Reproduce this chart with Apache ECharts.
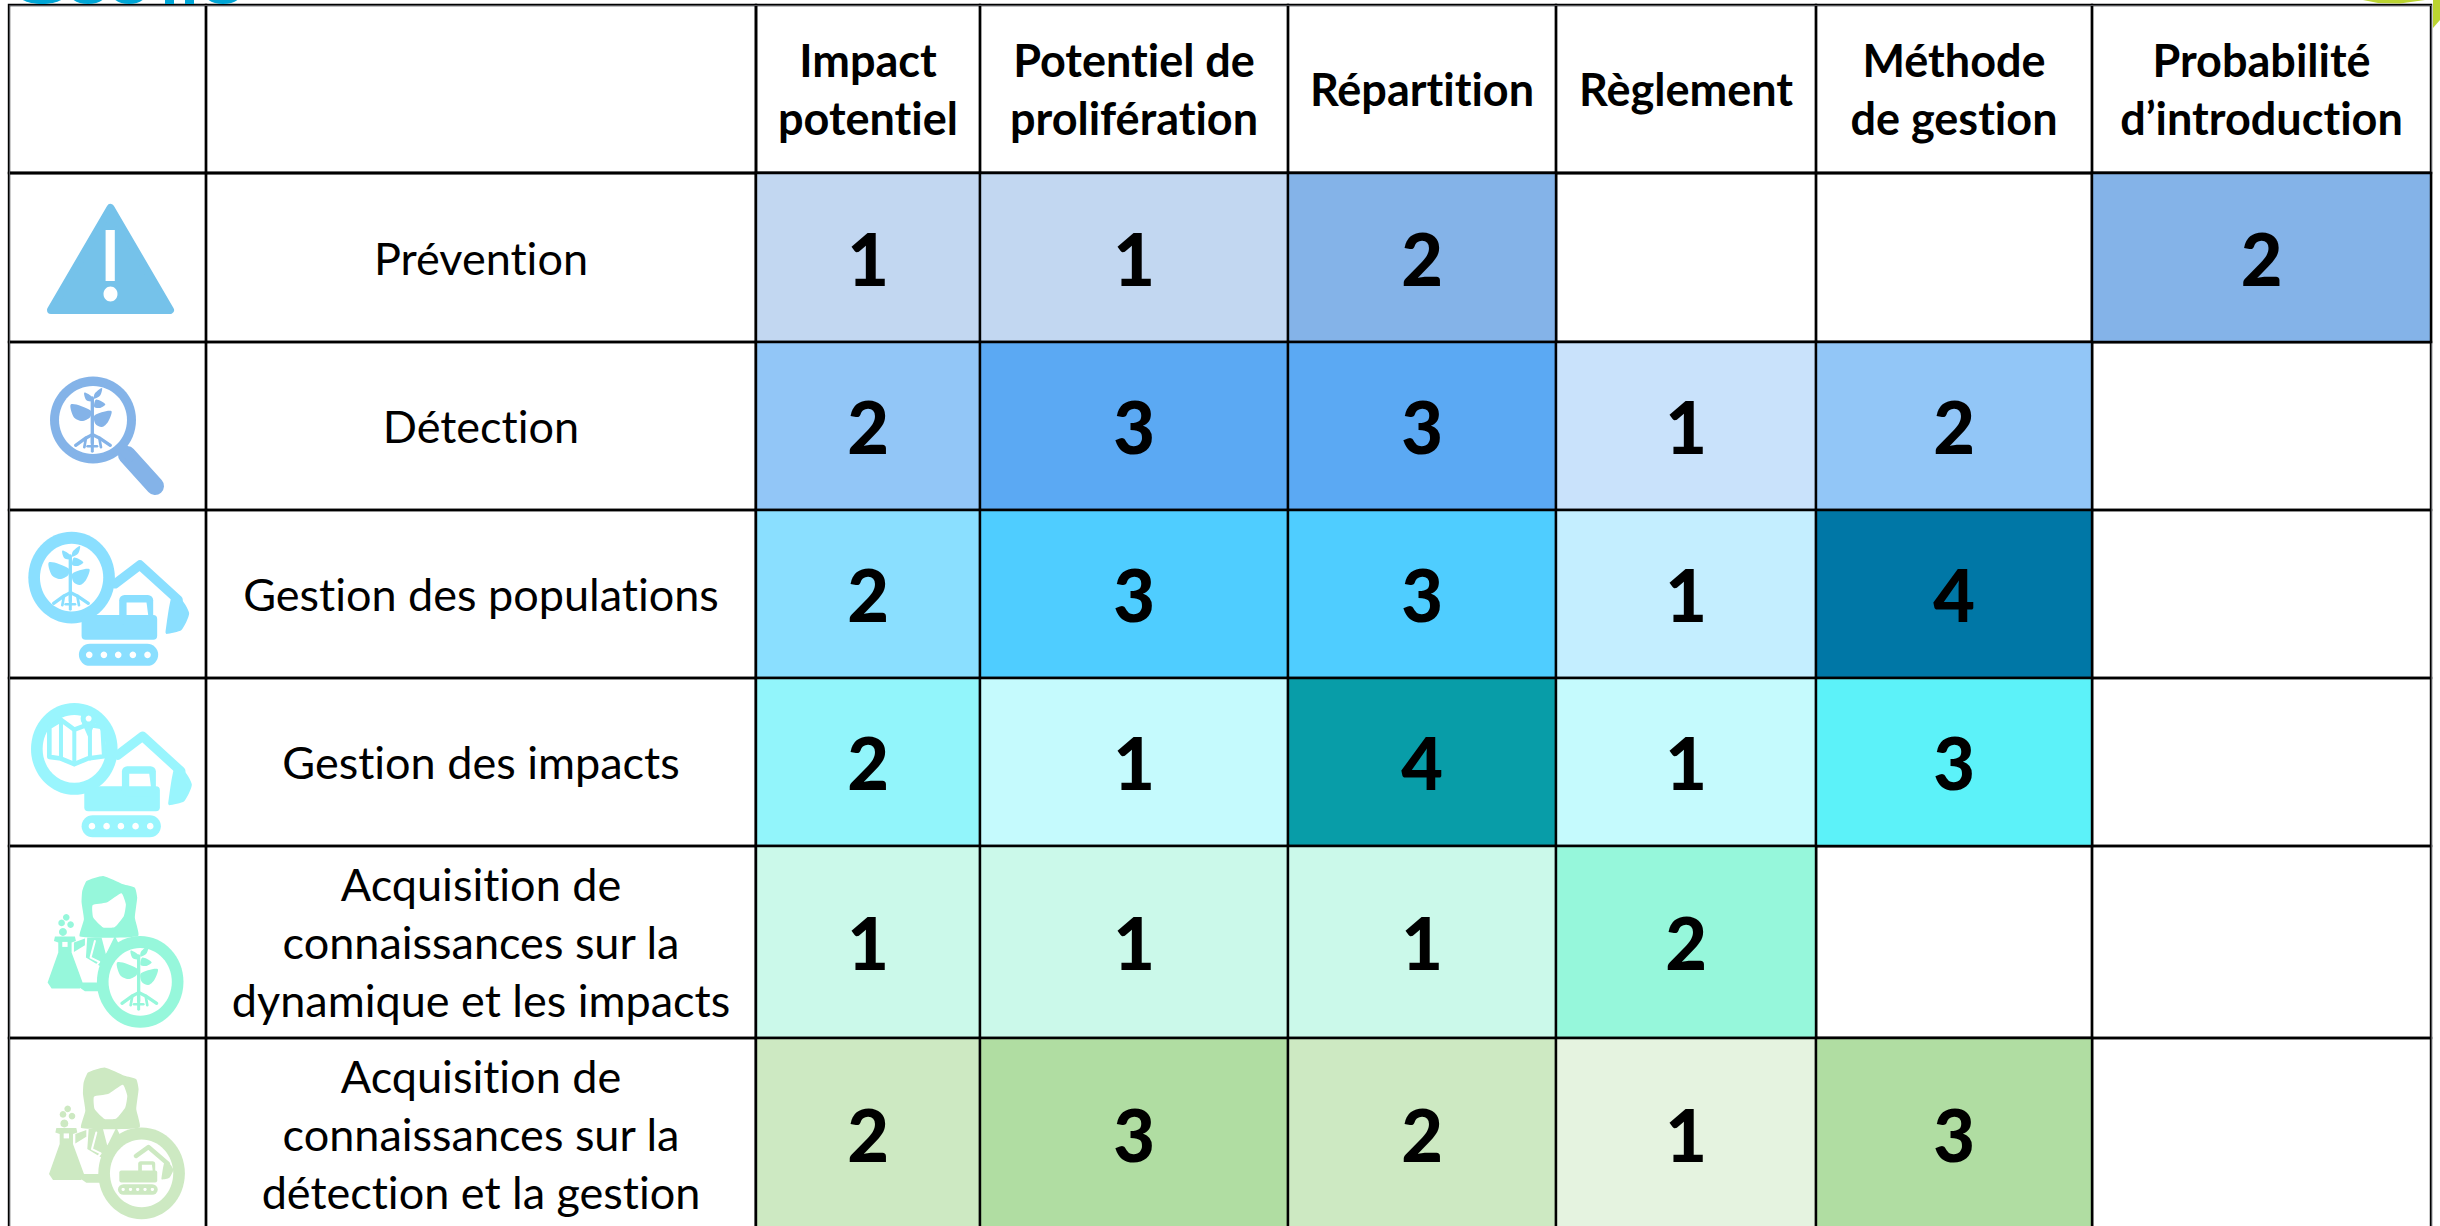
<!DOCTYPE html>
<html>
<head>
<meta charset="utf-8">
<title>Matrice</title>
<style>
html,body{margin:0;padding:0;background:#fff;overflow:hidden}
#main{width:2440px;height:1226px}
#main text{font-variant-ligatures:none}
</style>
<script src="https://cdn.jsdelivr.net/npm/echarts@6/dist/echarts.min.js"></script>
</head>
<body>
<div id="main"></div>
<script>
var columns = ['Impact\npotentiel', 'Potentiel de\nprolifération', 'Répartition', 'Règlement', 'Méthode\nde gestion', 'Probabilité\nd’introduction'];
var rows = ['Prévention', 'Détection', 'Gestion des populations', 'Gestion des impacts',
    'Acquisition de\nconnaissances sur la\ndynamique et les impacts',
    'Acquisition de\nconnaissances sur la\ndétection et la gestion'];

var prevention = [1, 1, 2, null, null, 2];
var detection = [2, 3, 3, 1, 2, null];
var populations = [2, 3, 3, 1, 4, null];
var impacts = [2, 1, 4, 1, 3, null];
var dynamique = [1, 1, 1, 2, null, null];
var gestion = [2, 3, 2, 1, 3, null];
var allValues = [prevention, detection, populations, impacts, dynamique, gestion];

// couleurs par ligne, niveau 1 a 4
var shades = [
    ['#C2D7F1', '#84B3E8'],
    ['#C9E2FB', '#92C6F7', '#5BA9F3'],
    ['#C4EEFF', '#8ADFFF', '#4FCDFF', '#0077A6'],
    ['#C5FAFD', '#92F5FB', '#5CF2F9', '#089DA8'],
    ['#CBF9EA', '#96F7DB'],
    ['#E5F3E0', '#CDE9C2', '#B0DDA2']
];

var colSizes = [224, 308, 268, 260, 276, 339];
var rowSizes = [169, 168, 168, 168, 192, 192];
var FONT = 'Lato';
var LINE = {borderColor: '#000', borderWidth: 2.4};

var seriesData = [];
for (var r = 0; r < rows.length; r++) {
    for (var c = 0; c < columns.length; c++) {
        var v = allValues[r][c];
        if (v == null) continue;
        seriesData.push({
            value: [columns[c], rows[r], v],
            itemStyle: {color: shades[r][v - 1]}
        });
    }
}

// petits dessins, coordonnees locales puis mises a l'echelle par le groupe
function ell(cx, cy, rx, ry, fill) {
    return {type: 'ellipse', shape: {cx: cx, cy: cy, rx: rx, ry: ry}, style: {fill: fill}};
}
function circle(cx, cy, r, fill) {
    return {type: 'circle', shape: {cx: cx, cy: cy, r: r}, style: {fill: fill}};
}
function poly(pts, fill, smooth) {
    return {type: 'polygon', shape: {points: pts, smooth: smooth || 0}, style: {fill: fill}};
}
function line(pts, color, w) {
    return {type: 'polyline', shape: {points: pts}, style: {fill: 'none', stroke: color, lineWidth: w, lineCap: 'round', lineJoin: 'round'}};
}
function rrect(x, y, w, h, rad, fill) {
    return {type: 'rect', shape: {x: x, y: y, width: w, height: h, r: rad}, style: {fill: fill}};
}
function group(x, y, sx, sy, children) {
    return {type: 'group', x: x, y: y, scaleX: sx, scaleY: sy, z: 100, children: children};
}
function plant(x, y, color) {
    return group(x, y, 1, 1, [
        poly([[0, 49], [58, 67], [58, 87], [33, 99], [8, 87]], color, 0.3),
        poly([[121, 69], [71, 82], [73, 107], [93, 117], [111, 102]], color, 0.3),
        poly([[40, 14], [63, 27], [60, 40], [45, 35]], color, 0.3),
        poly([[93, 0], [71, 17], [70, 32], [88, 22]], color, 0.3),
        poly([[103, 49], [75, 35], [70, 57], [90, 59]], color, 0.3),
        line([[64, 30], [64, 165]], color, 10),
        line([[64, 140], [45, 150], [14, 172]], color, 10),
        line([[64, 140], [85, 150], [118, 172]], color, 10),
        line([[45, 150], [40, 178]], color, 8),
        line([[85, 150], [90, 178]], color, 8),
        line([[64, 150], [64, 190]], color, 9),
        line([[50, 175], [78, 175]], color, 8)
    ]);
}
function excavator(x, y, sx, sy, color) {
    var dots = [268, 312, 355, 399, 443];
    return group(x, y, sx, sy, [
        line([[345, 222], [420, 165], [535, 270]], color, 28),
        poly([[515, 262], [540, 262], [568, 310], [545, 360], [500, 372], [497, 368]], color, 0.2),
        rrect(245, 315, 227, 75, 12, color),
        rrect(358, 255, 102, 90, 16, color),
        poly([[380, 278], [440, 278], [445, 315], [380, 315]], '#fff'),
        rrect(237, 402, 238, 66, 33, color)
    ].concat(dots.map(function (d) { return circle(d, 435, 10, '#fff'); })));
}
function lens(cx, cy, color) {
    return [ell(cx, cy, 130, 138, color), ell(cx, cy, 95, 102, '#fff')];
}
function scientist(x, y, color, inner) {
    return group(x, y, 1 / 3, 1 / 3, [
        poly([[247, 135], [260, 105], [310, 90], [370, 115], [405, 125], [412, 155], [405, 215], [415, 270], [240, 272], [252, 220], [245, 170]], color, 0.15),
        poly([[278, 178], [320, 170], [365, 142], [378, 175], [372, 210], [345, 243], [310, 245], [280, 215]], '#fff', 0.15),
        poly([[262, 275], [305, 275], [318, 325], [345, 270], [360, 300], [300, 360], [258, 335]], color),
        line([[285, 285], [272, 335], [298, 348], [290, 358]], '#fff', 6),
        poly([[222, 290], [255, 278], [255, 298], [222, 318]], color),
        poly([[245, 410], [300, 410], [300, 436], [255, 436], [240, 426]], color),
        poly([[165, 272], [225, 272], [228, 285], [215, 290], [215, 320], [248, 410], [240, 428], [155, 428], [143, 410], [175, 320], [175, 290], [162, 285]], color),
        rrect(187, 288, 16, 15, 0, '#fff'),
        circle(189, 258, 12, color), circle(185, 231, 10, color),
        circle(212, 236, 10, color), circle(199, 214, 10, color)
    ].concat(lens(421, 408, color)).concat([inner]));
}
function mapGlyph(color) {
    return group(0, 0, 1, 1, [
        {type: 'polygon', shape: {points: [[140, 137], [175, 116], [215, 145], [255, 130], [300, 137], [305, 225], [255, 232], [215, 249], [175, 232], [140, 227]]},
            style: {fill: 'none', stroke: color, lineWidth: 14, lineJoin: 'round'}},
        line([[175, 116], [175, 232]], color, 12),
        line([[215, 145], [215, 249]], color, 12),
        line([[262, 130], [262, 232]], color, 12),
        poly([[238, 125], [278, 125], [258, 170]], color),
        circle(258, 112, 24, color),
        circle(258, 112, 9, '#fff')
    ]);
}

var warningCol = '#75C2EA', detectCol = '#84B3E8', popCol = '#8ADFFF', impactCol = '#99F5FD', dynCol = '#96F7DB', gestCol = '#CDE9C2';
var titleCol = '#00A6D6';
var icons = [
    // titre coupe et tache verte en haut de la diapositive
    group(0, 0, 1, 1, [
        ell(42, -6, 24, 10, titleCol), ell(88, -6, 18, 10, titleCol), ell(129, -6, 17, 10, titleCol),
        rrect(165, -20, 9, 24, 0, titleCol), rrect(185, -20, 9, 24, 0, titleCol), ell(223, -6, 18, 10, titleCol)
    ]),
    group(0, 0, 1, 1, [
        poly([[2363, 0], [2378, 3], [2400, 3.5], [2425, 0]], '#BBD431'),
        poly([[2433, 0], [2440, 0], [2440, 20], [2433, 28]], '#BBD431')
    ]),
    // prevention
    group(0, 0, 1, 1, [
        {type: 'polygon', shape: {points: [[110.5, 208], [170, 310], [51, 310]]},
            style: {fill: warningCol, stroke: warningCol, lineWidth: 8, lineJoin: 'round'}},
        rrect(105.6, 230, 9.2, 51, 0, '#fff'),
        ell(110.5, 294, 7, 7.5, '#fff')
    ]),
    // detection
    group(0, 0, 1, 1, [
        line([[127, 455], [155, 486]], detectCol, 18),
        line([[121, 448], [130, 458]], detectCol, 8),
        ell(93, 420, 43, 43.5, detectCol),
        ell(93, 420, 34, 34, '#fff'),
        group(71, 388, 1 / 3, 1 / 3, [plant(0, 0, detectCol)])
    ]),
    // gestion des populations
    group(0, 510, 1 / 3, 1 / 3, lens(215, 203, popCol).concat([plant(147, 108, popCol), excavator(0, 0, 1, 1, popCol)])),
    // gestion des impacts
    group(2.7, 681.3, 1 / 3, 1 / 3, lens(215, 203, impactCol).concat([mapGlyph(impactCol), excavator(0, 0, 1, 1, impactCol)])),
    scientist(0, 846, dynCol, plant(352, 300, dynCol)),
    scientist(1.4, 1037.5, gestCol, excavator(231, 251, 0.5, 0.47, gestCol))
];

var myChart = echarts.init(document.getElementById('main'), null, {renderer: 'svg'});
var option = {
    animation: false,
    matrix: {
        left: 9, top: 5, width: 2422, height: 1225,
        corner: {itemStyle: LINE},
        x: {
            levelSize: 168,
            data: columns.map(function (n, i) { return {value: n, size: colSizes[i]}; }),
            itemStyle: LINE,
            dividerLineStyle: {color: '#000', width: 2.4},
            label: {color: '#000', fontFamily: FONT, fontWeight: 'bold', fontSize: 45, lineHeight: 58, padding: [6, 0, 0, 0]}
        },
        y: {
            levels: [{levelSize: 197}, {levelSize: 550}],
            data: rows.map(function (n, i) {
                return {value: ' '.repeat(i + 1), size: rowSizes[i], children: [{value: n, size: rowSizes[i]}]};
            }),
            itemStyle: LINE,
            dividerLineStyle: {color: '#000', width: 2.4},
            label: {color: '#000', fontFamily: FONT, fontSize: 45, lineHeight: 58, padding: [6, 0, 0, 0]}
        },
        body: {itemStyle: LINE}
    },
    graphic: icons,
    series: [{
        type: 'heatmap',
        coordinateSystem: 'matrix',
        data: seriesData,
        itemStyle: LINE,
        label: {
            show: true, color: '#000', fontFamily: FONT, fontWeight: 900, fontSize: 72, padding: [6, 0, 0, 0],
            formatter: function (p) { return p.value[2]; }
        }
    }]
};
myChart.setOption(option);
</script>
</body>
</html>
